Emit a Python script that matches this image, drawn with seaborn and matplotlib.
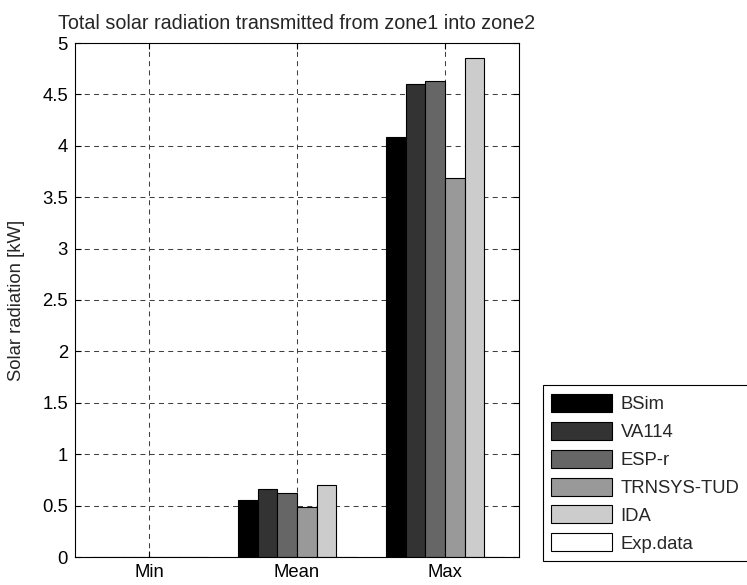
import matplotlib
matplotlib.use("Agg")
import matplotlib.pyplot as plt
import seaborn as sns
import pandas as pd

categories = ["Min", "Mean", "Max"]
models = ["BSim", "VA114", "ESP-r", "TRNSYS-TUD", "IDA", "Exp.data"]
bsim = [0.0, 0.55, 4.09]
va114 = [0.0, 0.66, 4.60]
espr = [0.0, 0.62, 4.63]
trnsys = [0.0, 0.49, 3.69]
ida = [0.0, 0.70, 4.85]
expdata = [0.0, 0.0, 0.0]
colors = ["#000000", "#333333", "#666666", "#999999", "#cccccc", "#ffffff"]
yticks = [0, 0.5, 1, 1.5, 2, 2.5, 3, 3.5, 4, 4.5, 5]
ytick_labels = ["0", "0.5", "1", "1.5", "2", "2.5", "3", "3.5", "4", "4.5", "5"]
title = "Total solar radiation transmitted from zone1 into zone2"
ylabel = "Solar radiation [kW]"

series = [bsim, va114, espr, trnsys, ida, expdata]
rows = []
for m, vals in zip(models, series):
    for c, v in zip(categories, vals):
        rows.append({"stat": c, "model": m, "value": v})
df = pd.DataFrame(rows)

sns.set_style("white")
plt.rcParams["font.family"] = ["Liberation Sans", "DejaVu Sans"]
fs = 13.3

fig = plt.figure(figsize=(7.47, 5.85), dpi=100)
ax = fig.add_axes([75 / 747, 1 - 557 / 585, (519 - 75) / 747, (557 - 43) / 585])

sns.barplot(data=df, x="stat", y="value", hue="model", order=categories,
            hue_order=models, palette=colors, edgecolor="black", linewidth=0.8,
            width=0.8, gap=0, saturation=1, ax=ax, legend=True, errorbar=None)

ax.set_xlim(-0.5, 2.5)
ax.set_ylim(0, 5)
ax.set_yticks(yticks)
ax.set_yticklabels(ytick_labels)
ax.set_xlabel("")
ax.set_ylabel(ylabel, fontsize=fs)
ax.yaxis.set_label_coords(-0.113, 0.5)
ax.set_title(title, fontsize=14.2, pad=10)

ax.set_axisbelow(True)
ax.grid(True, color="0.25", linestyle=(0, (4.8, 4.1)), linewidth=0.75)
for s in ax.spines.values():
    s.set_visible(True)
    s.set_color("black")
    s.set_linewidth(0.8)
ax.tick_params(direction="in", length=4, width=0.8, colors="black",
               labelsize=fs, top=True, right=True, bottom=True, left=True, pad=5)

handles, labels = ax.get_legend_handles_labels()
ax.get_legend().remove()
leg = fig.legend(handles, labels, loc="lower left",
                 bbox_to_anchor=(543 / 747, 24 / 585), bbox_transform=fig.transFigure,
                 fontsize=fs, frameon=True, fancybox=False, framealpha=1,
                 edgecolor="black", handlelength=3.3, handleheight=1.12,
                 handletextpad=0.45, labelspacing=0.47, borderpad=0.45,
                 borderaxespad=0)
leg.get_frame().set_linewidth(0.8)

fig.savefig("out.png", dpi=100)
